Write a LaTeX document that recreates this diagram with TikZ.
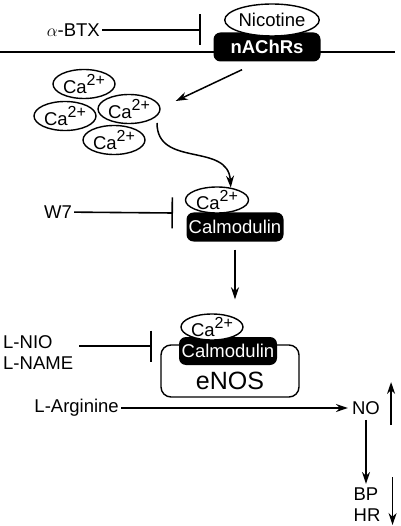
\documentclass[tikz,border=0pt]{standalone}
\usepackage{fontspec}
\setmainfont{Liberation Sans}
\usetikzlibrary{shapes.geometric,arrows.meta,positioning}

\newcommand{\catwo}{Ca\raisebox{0.38em}{\fontsize{16}{16}\selectfont 2+}}

\tikzset{
  ion/.style={ellipse,draw,fill=white,line width=1.4pt,minimum width=62pt,minimum height=29pt,inner sep=0pt},
  blackbox/.style={fill=black,text=white,rounded corners=7pt,minimum height=29pt,inner sep=2pt},
  plain/.style={inner sep=2pt},
  arr/.style={-{Stealth[length=12pt,width=8pt]},line width=1.5pt},
  blocker/.style={-{Bar[width=31pt,line width=1.6pt]},line width=1.6pt}
}

\begin{document}
\begin{tikzpicture}[x=1pt,y=-1pt,font=\fontsize{18.5}{21}\selectfont]
  \useasboundingbox (0,0) rectangle (400,526);

  % membrane and receptor
  \draw[line width=1.2pt] (0,52) -- (395,52);
  \node[blackbox,minimum width=107pt,font=\fontsize{18.5}{21}\selectfont\bfseries] (nachr) at (267,47) {nAChRs};
  \node[ion,minimum width=88pt,minimum height=32pt] (nic) at (272,20) {Nicotine};

  \node[plain,anchor=east] (abtx) at (102,30) {$\alpha$-BTX};
  \coordinate (btxbar) at (201,30);
  \draw[blocker] (abtx) -- (btxbar);

  % free calcium
  \node[ion] (ca1) at (84,84) {\catwo};
  \node[ion] (ca2) at (65,116) {\catwo};
  \node[ion] (ca3) at (129,109) {\catwo};
  \node[ion] (ca4) at (114,140) {\catwo};

  \draw[arr] ([xshift=-25pt,yshift=-8pt]nachr.south) -- ([xshift=15pt,yshift=8pt]ca3.east);

  % calmodulin
  \node[blackbox,minimum width=97pt] (calm) at (235,227) {Calmodulin};
  \node[ion,minimum width=63pt,minimum height=26pt] (cab) at (217,200) {\catwo};

  \draw[arr] ([shift={(28,14)}]ca3.center) .. controls (157,168) and (228,142) .. (cab.42);

  \node[plain] (w7) at (58,212) {W7};
  \coordinate (w7bar) at (173,213);
  \draw[blocker] (w7) -- (w7bar);

  % eNOS complex
  \node[draw,line width=1.4pt,rounded corners=10pt,minimum width=138pt,minimum height=52pt] (enos) at (230,371) {};
  \node[plain,font=\fontsize{25}{28}\selectfont] (enostxt) at (230,381) {eNOS};
  \node[blackbox,minimum width=98pt,minimum height=28pt] (calmb) at (228,351) {Calmodulin};
  \node[ion,minimum height=22pt] (cac) at (212,327) {\catwo};

  \draw[arr,shorten <=8pt,shorten >=14pt] (calm.south) -- (calm.south |- cac.north);

  \node[plain,anchor=west,align=left] (lnio) at (1,353) {L-NIO\\L-NAME};
  \coordinate (niobar) at (152,346);
  \draw[blocker] ([xshift=4pt]lnio.east |- niobar) -- (niobar);

  % nitric oxide
  \node[plain,anchor=east] (larg) at (121,408) {L-Arginine};
  \node[plain] (no) at (366,408) {NO};
  \draw[arr,shorten >=2pt] (larg) -- (no);
  \draw[arr] ([xshift=9pt,yshift=-17pt]no.east) -- ([xshift=9pt,yshift=26pt]no.east);

  \node[plain,align=left] (bphr) at (367,505) {BP\\HR};
  \draw[arr,shorten <=3pt] (no.south) -- ([yshift=2pt]no.south |- bphr.north);
  \draw[arr] ([xshift=10pt,yshift=28pt]bphr.east) -- ([xshift=10pt,yshift=-20pt]bphr.east);
\end{tikzpicture}
\end{document}
